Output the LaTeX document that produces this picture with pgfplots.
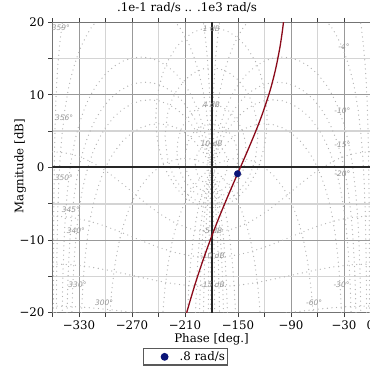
\documentclass[border=0pt]{standalone}
\usepackage{fontspec}
\setmainfont{DejaVu Serif}
\newfontfamily\lblfont{DejaVu Sans}
\usepackage{pgfplots}
\pgfplotsset{compat=1.18}
\usepackage{pgfplotstable}
\definecolor{curvered}{RGB}{139,10,26}
\definecolor{mknavy}{RGB}{10,20,120}
\tikzset{
  nich/.style={black!30, line width=1.3pt, line cap=round, dash pattern=on 0pt off 4.6pt},
  clbl/.style={font=\fontsize{7.5}{8}\selectfont\lblfont\itshape, text=black!42, inner sep=0pt},
}

% base arch of a closed-loop phase contour: theta, 20 log10(sin theta)
\pgfplotstableread{
t s
0.1 -55.16
0.2 -49.14
0.3 -45.62
0.5 -41.18
0.7 -38.26
1 -35.16
1.5 -31.64
2 -29.14
3 -25.62
4 -23.13
5 -21.19
7 -18.28
10 -15.21
13 -12.96
16 -11.19
20 -9.32
25 -7.48
30 -6.02
35 -4.83
40 -3.84
50 -2.31
60 -1.25
70 -0.54
80 -0.13
90 0
100 -0.13
110 -0.54
120 -1.25
130 -2.31
140 -3.84
145 -4.83
150 -6.02
155 -7.48
160 -9.32
164 -11.19
167 -12.96
170 -15.21
173 -18.28
175 -21.19
176 -23.13
177 -25.62
178 -29.14
178.5 -31.64
179 -35.16
179.3 -38.26
179.5 -41.18
179.7 -45.62
179.8 -49.14
179.9 -55.16
}\archtab

% open-loop response: phase [deg], magnitude [dB]
\pgfplotstableread{
ph mag
-97.72 20.87
-98.57 19.95
-100.28 18.34
-102.82 16.36
-107.02 13.77
-111.16 11.71
-115.23 9.99
-123.11 7.14
-130.60 4.79
-137.66 2.73
-144.28 0.86
-150.46 -0.86
-161.57 -3.98
-171.16 -6.79
-180.00 -9.54
-186.66 -11.75
-192.93 -13.96
-198.43 -16.02
-205.49 -18.88
-209.54 -20.65
}\resp

\begin{document}
\begin{tikzpicture}
\begin{axis}[
  scale only axis, width=318pt, height=290.4pt,
  xmin=-360, xmax=0, ymin=-20, ymax=20,
  xtick={-330,-270,-210,-150,-90,-30,0},
  xticklabels={−330,−270,−210,−150,−90,−30,0},
  ytick={-20,-10,0,10,20},
  yticklabels={−20,−10,0,10,20},
  minor xtick={-360,-300,-240,-120,-60},
  minor ytick={-15,-5,5,15},
  tick align=outside, major tick length=4.5pt, minor tick length=4pt,
  tick style={black!75, line width=0.9pt},
  grid=both,
  major grid style={black!40, line width=0.8pt},
  minor grid style={black!17, line width=1.6pt},
  axis line style={black!55, line width=1.4pt},
  font=\fontsize{11.8}{14}\selectfont,
  title={.1e-1 rad/s .. .1e3 rad/s},
  title style={at={(axis description cs:0.423,1.0158)}, anchor=base, inner sep=0pt},
  xlabel={Phase [deg.]},
  xlabel style={at={(axis description cs:0.5,-0.1033)}, anchor=base, inner sep=0pt},
  ylabel={Magnitude [dB]},
  ylabel style={at={(axis description cs:-0.0918,0.505)}, anchor=base, inner sep=0pt},
  legend style={at={(0.2846,-0.1216)}, anchor=north west, draw=black!65, line width=1.2pt,
    inner xsep=0pt, inner ysep=0pt, nodes={inner xsep=3pt, inner ysep=3pt},
    font=\fontsize{11.8}{14}\selectfont},
  legend image code/.code={\path[use as bounding box, draw=none] (0pt,-3pt) rectangle (33pt,3pt); \path[#1, draw=none] plot[only marks] coordinates {(21pt,0pt)};},
]
% closed-loop phase contours (right side)
\addplot[nich, forget plot] table[x expr=-\thisrow{t}-1,  y expr=\thisrow{s}+35.16] {\archtab};
\addplot[nich, forget plot] table[x expr=-\thisrow{t}-4,  y expr=\thisrow{s}+23.13] {\archtab};
\addplot[nich, forget plot] table[x expr=-\thisrow{t}-10, y expr=\thisrow{s}+15.21] {\archtab};
\addplot[nich, forget plot] table[x expr=-\thisrow{t}-15, y expr=\thisrow{s}+11.74] {\archtab};
\addplot[nich, forget plot] table[x expr=-\thisrow{t}-20, y expr=\thisrow{s}+9.32] {\archtab};
\addplot[nich, forget plot] table[x expr=-\thisrow{t}-30, y expr=\thisrow{s}+6.02] {\archtab};
\addplot[nich, forget plot] table[x expr=-\thisrow{t}-60, y expr=\thisrow{s}+1.25] {\archtab};
% closed-loop phase contours (left side)
\addplot[nich, forget plot] table[x expr=\thisrow{t}-359, y expr=\thisrow{s}+35.16] {\archtab};
\addplot[nich, forget plot] table[x expr=\thisrow{t}-356, y expr=\thisrow{s}+23.13] {\archtab};
\addplot[nich, forget plot] table[x expr=\thisrow{t}-350, y expr=\thisrow{s}+15.21] {\archtab};
\addplot[nich, forget plot] table[x expr=\thisrow{t}-345, y expr=\thisrow{s}+11.74] {\archtab};
\addplot[nich, forget plot] table[x expr=\thisrow{t}-340, y expr=\thisrow{s}+9.32] {\archtab};
\addplot[nich, forget plot] table[x expr=\thisrow{t}-330, y expr=\thisrow{s}+6.02] {\archtab};
\addplot[nich, forget plot] table[x expr=\thisrow{t}-300, y expr=\thisrow{s}+1.25] {\archtab};
% closed-loop magnitude contours
\addplot[nich, forget plot] coordinates {(-243.03,6.87) (-242,9.17) (-240,10.77) (-235,13.06) (-230,14.55) (-220,16.56) (-210,17.84) (-200,18.66) (-190,19.12) (-180,19.27) (-170,19.12) (-160,18.66) (-150,17.84) (-140,16.56) (-130,14.55) (-125,13.06) (-120,10.77) (-118,9.17) (-116.97,6.87) (-118,4.57) (-120,2.97) (-125,0.68) (-130,-0.815) (-140,-2.82) (-150,-4.10) (-160,-4.92) (-170,-5.385) (-180,-5.54) (-190,-5.385) (-200,-4.92) (-210,-4.10) (-220,-2.82) (-230,-0.815) (-235,0.68) (-240,2.97) (-242,4.57) (-243.03,6.87)};
\addplot[nich, forget plot] coordinates {(-232.59,4.33) (-230,7.28) (-225,9.24) (-220,10.48) (-210,12.08) (-200,13.04) (-190,13.57) (-180,13.74) (-170,13.57) (-160,13.04) (-150,12.08) (-140,10.48) (-135,9.24) (-130,7.28) (-127.41,4.33) (-130,1.38) (-135,-0.58) (-140,-1.82) (-150,-3.42) (-160,-4.38) (-170,-4.91) (-180,-5.08) (-190,-4.91) (-200,-4.38) (-210,-3.42) (-220,-1.82) (-225,-0.58) (-230,1.38) (-232.59,4.33)};
\addplot[nich, forget plot] coordinates {(-219.12,2.21) (-218,3.74) (-215,5.09) (-210,6.35) (-200,7.76) (-190,8.45) (-180,8.66) (-170,8.45) (-160,7.76) (-150,6.35) (-145,5.09) (-142,3.74) (-140.88,2.21) (-142,0.67) (-145,-0.685) (-150,-1.94) (-160,-3.35) (-170,-4.04) (-180,-4.25) (-190,-4.04) (-200,-3.35) (-210,-1.94) (-215,-0.685) (-218,0.67) (-219.12,2.21)};
\addplot[nich, forget plot] coordinates {(-210.08,1.26) (-208,3.01) (-205,3.92) (-200,4.83) (-190,5.77) (-180,6.04) (-170,5.77) (-160,4.83) (-155,3.92) (-152,3.01) (-149.92,1.26) (-152,-0.49) (-155,-1.41) (-160,-2.32) (-170,-3.26) (-180,-3.53) (-190,-3.26) (-200,-2.32) (-205,-1.41) (-208,-0.49) (-210.08,1.26)};
\addplot[nich, forget plot] coordinates {(-198.43,0.46) (-197,1.56) (-194,2.31) (-190,2.85) (-185,3.20) (-180,3.30) (-175,3.20) (-170,2.85) (-166,2.31) (-163,1.56) (-161.57,0.46) (-163,-0.64) (-166,-1.39) (-170,-1.93) (-175,-2.28) (-180,-2.39) (-185,-2.28) (-190,-1.93) (-194,-1.39) (-197,-0.64) (-198.43,0.46)};
\addplot[nich, forget plot] coordinates {(-185.74,0.04) (-185,0.47) (-183,0.787) (-180,0.915) (-177,0.787) (-175,0.47) (-174.26,0.04) (-175,-0.384) (-177,-0.70) (-180,-0.828) (-183,-0.70) (-185,-0.384) (-185.74,0.04)};
\addplot[nich, forget plot, smooth] coordinates {(-360,2.18) (-340,1.88) (-320,0.99) (-300,-0.45) (-280,-2.33) (-270,-3.35) (-260,-4.37) (-240,-6.25) (-220,-7.69) (-200,-8.58) (-180,-8.875) (-160,-8.58) (-140,-7.69) (-120,-6.25) (-100,-4.37) (-90,-3.35) (-80,-2.33) (-60,-0.45) (-40,0.99) (-20,1.88) (0,2.18)};
\addplot[nich, forget plot, smooth] coordinates {(-360,-6.70) (-340,-6.86) (-320,-7.35) (-300,-8.10) (-280,-9.04) (-270,-9.54) (-260,-10.05) (-240,-10.98) (-220,-11.74) (-200,-12.22) (-180,-12.39) (-160,-12.22) (-140,-11.74) (-120,-10.98) (-100,-10.05) (-90,-9.54) (-80,-9.04) (-60,-8.10) (-40,-7.35) (-20,-6.86) (0,-6.70)};
\addplot[nich, forget plot, smooth] coordinates {(-360,-13.30) (-340,-13.39) (-320,-13.66) (-300,-14.08) (-280,-14.59) (-270,-14.86) (-260,-15.13) (-240,-15.64) (-220,-16.06) (-200,-16.33) (-180,-16.42) (-160,-16.33) (-140,-16.06) (-120,-15.64) (-100,-15.13) (-90,-14.86) (-80,-14.59) (-60,-14.08) (-40,-13.66) (-20,-13.39) (0,-13.30)};
\addplot[nich, forget plot, smooth] coordinates {(-360,-19.08) (-330,-19.20) (-300,-19.52) (-270,-19.955) (-240,-20.39) (-180,-20.83) (-120,-20.39) (-90,-19.955) (-60,-19.52) (-30,-19.20) (0,-19.08)};
% zero lines
\addplot[forget plot, black!85, line width=2pt] coordinates {(-180,-20) (-180,20)};
\addplot[forget plot, black!85, line width=2pt] coordinates {(-360,0) (0,0)};
% contour labels
\node[clbl] at (axis cs:-180,19.1) {1 dB};
\node[clbl] at (axis cs:-180,8.6) {4 dB};
\node[clbl] at (axis cs:-180,3.3) {10 dB};
\node[clbl] at (axis cs:-179,-8.7) {-5 dB};
\node[clbl] at (axis cs:-179,-12.2) {-10 dB};
\node[clbl] at (axis cs:-179,-16.1) {-15 dB};
\node[clbl] at (axis cs:-350.6,19.3) {359°};
\node[clbl] at (axis cs:-346.9,6.8) {356°};
\node[clbl] at (axis cs:-347.2,-1.45) {350°};
\node[clbl] at (axis cs:-339.3,-5.76) {345°};
\node[clbl] at (axis cs:-333.6,-8.75) {340°};
\node[clbl] at (axis cs:-331.7,-16.2) {330°};
\node[clbl] at (axis cs:-301.6,-18.7) {300°};
\node[clbl] at (axis cs:-29.9,16.7) {-4°};
\node[clbl] at (axis cs:-31.7,7.8) {-10°};
\node[clbl] at (axis cs:-31.7,3.1) {-15°};
\node[clbl] at (axis cs:-31.7,-0.8) {-20°};
\node[clbl] at (axis cs:-32.8,-16.2) {-30°};
\node[clbl] at (axis cs:-63.8,-18.6) {-60°};
% open-loop frequency response
\addplot[forget plot, curvered, line width=1.3pt, smooth] table[x=ph, y=mag] {\resp};
\addplot[only marks, mark=*, mark size=3.3pt, color=mknavy, mark options={fill=mknavy, draw=mknavy}] coordinates {(-150.46,-0.86)};
\addlegendentry{.8 rad/s}
\coordinate (SW) at (rel axis cs:0,0);
\coordinate (NE) at (rel axis cs:1,1);
\end{axis}
\pgfresetboundingbox
\path[use as bounding box] ([shift={(-52.5pt,-57.3pt)}]SW) rectangle ([shift={(-0.5pt,22.3pt)}]NE);
\end{tikzpicture}
\end{document}
